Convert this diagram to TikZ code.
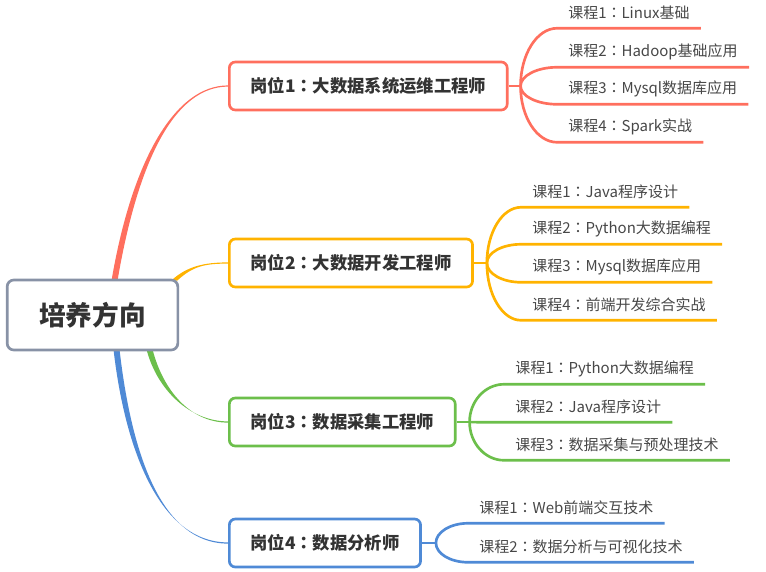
\documentclass[tikz,border=0pt]{standalone}
\usepackage{fontspec}
\setmainfont{Noto Sans CJK SC}
\newfontfamily\puncfont{Noto Sans CJK TC}
\newcommand{\sep}{{\puncfont ：}}
\usepackage{tikz}
\usetikzlibrary{calc,backgrounds}
\definecolor{rootgray}{HTML}{8892A6}
\definecolor{jobred}{HTML}{FF6F5E}
\definecolor{jobyellow}{HTML}{FFB300}
\definecolor{jobgreen}{HTML}{6CBF4B}
\definecolor{jobblue}{HTML}{4F8AD6}
\definecolor{inktext}{HTML}{333333}
\tikzset{job/.style={draw,rounded corners=4.5pt,line width=2pt,fill=white,anchor=west,minimum height=36pt,inner xsep=15.75pt,text=inktext,font=\bfseries\fontsize{13}{15}\selectfont}}
\tikzset{course/.style={anchor=west,minimum height=22.5pt,inner xsep=8.25pt,inner ysep=0pt,text=inktext!90,font=\fontsize{11.25}{13}\selectfont}}
\tikzset{twig/.style={line width=2pt,to path={.. controls ($(\tikztostart)!0.55!(\tikztostart |- \tikztotarget.south west)$) and ($(\tikztotarget.south west)!0.55!(\tikztostart |- \tikztotarget.south west)$) .. (\tikztotarget.south west) -- (\tikztotarget.south east)}}}
\newcommand{\rootlink}[5]{%
  \fill[#1] ($(#2)+(-3,0)$) .. controls ($(#3)+(-3,0)$) and ($(#4)+(0,-0.6)$) .. ($(#5)+(0,-0.6)$)
    -- ($(#5)+(0,0.6)$) .. controls ($(#4)+(0,0.6)$) and ($(#3)+(3,0)$) .. ($(#2)+(3,0)$) -- cycle;}

\begin{document}
\begin{tikzpicture}[x=0.75pt, y=-0.75pt]
    \useasboundingbox (0,0) rectangle (766,571);
    \node[draw=rootgray,line width=2pt,rounded corners=5pt,fill=white,minimum width=128pt,minimum height=52.5pt,text=inktext,font=\bfseries\fontsize{20}{24}\selectfont] (root) at (92.5,315) {培养方向};

    \node[job,draw=jobred] (j1) at (228,86) {岗位1\sep 大数据系统运维工程师};
    \node[job,draw=jobyellow] (j2) at (228,263) {岗位2\sep 大数据开发工程师};
    \node[job,draw=jobgreen] (j3) at (228,422) {岗位3\sep 数据采集工程师};
    \node[job,draw=jobblue] (j4) at (228,543) {岗位4\sep 数据分析师};

    \node[course] (k11) at (557,13) {课程1\sep Linux基础};
    \node[course] (k12) at (557,52) {课程2\sep Hadoop基础应用};
    \node[course] (k13) at (557,89) {课程3\sep Mysql数据库应用};
    \node[course] (k14) at (557,127) {课程4\sep Spark实战};

    \node[course] (k21) at (521,192) {课程1\sep Java程序设计};
    \node[course] (k22) at (521,229) {课程2\sep Python大数据编程};
    \node[course] (k23) at (521,267) {课程3\sep Mysql数据库应用};
    \node[course] (k24) at (521,305) {课程4\sep 前端开发综合实战};

    \node[course] (k31) at (504,369) {课程1\sep Python大数据编程};
    \node[course] (k32) at (504,407) {课程2\sep Java程序设计};
    \node[course] (k33) at (504,445) {课程3\sep 数据采集与预处理技术};

    \node[course] (k41) at (468,508) {课程1\sep Web前端交互技术};
    \node[course] (k42) at (468,547) {课程2\sep 数据分析与可视化技术};

    \begin{pgfonlayer}{background}
    \coordinate (s1) at ($(root.north)+(22,2)$);
    \coordinate (s2) at ($(root.north east)+(-5,2)$);
    \coordinate (s3) at ($(root.south)+(57,-2)$);
    \coordinate (s4) at ($(root.south)+(24,-2)$);
    \rootlink{jobred}{s1}{135,160}{175,86}{j1.west}
    \rootlink{jobyellow}{s2}{190,266}{205,263}{j2.west}
    \rootlink{jobgreen}{s3}{160,390}{190,422}{j3.west}
    \rootlink{jobblue}{s4}{128,450}{160,543}{j4.west}
    \end{pgfonlayer}

    \draw[jobred,line width=2pt] (j1.east) -- ++(12,0) coordinate (b1);
    \draw[jobyellow,line width=2pt] (j2.east) -- ++(13,0) coordinate (b2);
    \draw[jobgreen,line width=2pt] (j3.east) -- ++(13,0) coordinate (b3);
    \draw[jobblue,line width=2pt] (j4.east) -- ++(14,0) coordinate (b4);

    \path[jobred] (b1) edge[twig] (k11) edge[twig] (k12) edge[twig] (k13) edge[twig] (k14);
    \path[jobyellow] (b2) edge[twig] (k21) edge[twig] (k22) edge[twig] (k23) edge[twig] (k24);
    \path[jobgreen] (b3) edge[twig] (k31) edge[twig] (k32) edge[twig] (k33);
    \path[jobblue] (b4) edge[twig] (k41) edge[twig] (k42);
\end{tikzpicture}
\end{document}
